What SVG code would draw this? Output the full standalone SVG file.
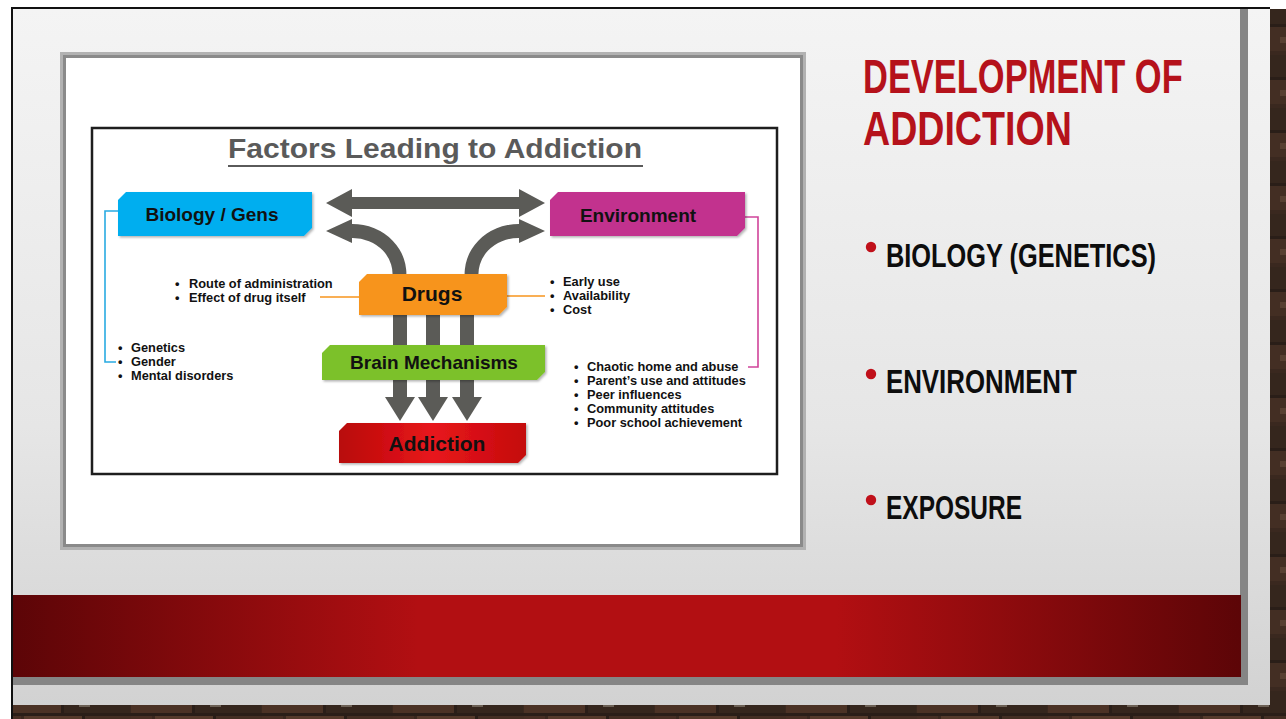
<svg xmlns="http://www.w3.org/2000/svg" width="1286" height="719" viewBox="0 0 1286 719">
  <style>
    .lbl { font-family: "Liberation Sans", Arial, sans-serif; font-weight: bold; fill: #111; }
    .box-txt { font-size: 19px; text-anchor: middle; }
    .big-txt { font-size: 21px; text-anchor: middle; }
    .bul { font-size: 12.8px; }
    .head { font-family: "Liberation Sans", Arial, sans-serif; font-weight: bold; }
    .arrow { fill: #5b5b57; }
    .bracket { fill: none; stroke-width: 1.6; }
  </style>
  <defs>
    <linearGradient id="cardGrad" x1="0" y1="0" x2="0" y2="1">
      <stop offset="0" stop-color="#f4f4f4"/>
      <stop offset="0.6" stop-color="#e6e6e6"/>
      <stop offset="1" stop-color="#d2d2d2"/>
    </linearGradient>
    <linearGradient id="bandGrad" x1="0" y1="0" x2="1" y2="0">
      <stop offset="0" stop-color="#5c0507"/>
      <stop offset="0.33" stop-color="#b20f12"/>
      <stop offset="0.67" stop-color="#b20f12"/>
      <stop offset="1" stop-color="#5c0507"/>
    </linearGradient>
    <linearGradient id="addGrad" x1="0" y1="0" x2="1" y2="0">
      <stop offset="0" stop-color="#b80808"/>
      <stop offset="0.5" stop-color="#e8161c"/>
      <stop offset="1" stop-color="#c40a0c"/>
    </linearGradient>
    <!-- weathered brick wall behind the slide -->
    <pattern id="brick" width="131" height="53" patternUnits="userSpaceOnUse">
      <rect width="131" height="53" fill="#3a281f"/>
      <rect x="0" y="1" width="61" height="23" fill="#4b3225"/>
      <rect x="64" y="2" width="66" height="22" fill="#35261d"/>
      <rect x="24" y="27" width="58" height="24" fill="#553a2b"/>
      <rect x="85" y="27" width="46" height="24" fill="#432e23"/>
      <rect x="0" y="27" width="21" height="24" fill="#472f24"/>
      <rect x="10" y="7" width="14" height="8" fill="#5e4535"/>
      <rect x="79" y="12" width="11" height="6" fill="#6c6055"/>
      <rect x="40" y="33" width="9" height="9" fill="#6f6358"/>
      <rect x="101" y="37" width="13" height="6" fill="#584032"/>
      <rect x="61" y="0" width="3" height="25" fill="#2a1e18"/>
      <rect x="82" y="26" width="3" height="27" fill="#2a1e18"/>
      <rect x="0" y="24" width="131" height="3" fill="#2a1e18"/>
    </pattern>
    <filter id="soft" x="-5%" y="-10%" width="115%" height="130%">
      <feDropShadow dx="1.5" dy="1.5" stdDeviation="1.2" flood-color="#000" flood-opacity="0.3"/>
    </filter>
  </defs>

  <!-- page and slide surface -->
  <rect width="1286" height="719" fill="#ffffff"/>
  <rect x="13" y="9" width="1273" height="710" fill="url(#brick)"/>
  <rect x="13" y="9" width="1257" height="696" fill="url(#cardGrad)"/>
  <rect x="11" y="7" width="1259" height="2" fill="#111"/>
  <rect x="11" y="7" width="2" height="712" fill="#111"/>

  <!-- inner card with shadow -->
  <rect x="1240" y="9" width="8" height="676" fill="#858585"/>
  <rect x="13" y="677" width="1235" height="8" fill="#858585"/>
  <rect x="13" y="595" width="1228" height="82" fill="url(#bandGrad)"/>

  <!-- picture frame -->
  <rect x="60" y="52" width="746" height="498" fill="#b2b2b2"/>
  <rect x="63" y="55" width="740" height="492" fill="#8a8a8a"/>
  <rect x="66" y="58" width="734" height="486" fill="#ffffff"/>

  <!-- diagram panel -->
  <rect x="92" y="128" width="685" height="346" fill="#ffffff" stroke="#1e1e1e" stroke-width="2.5"/>
  <g id="diagram-title">
    <text class="head" x="228" y="158" font-size="28" fill="#5a5a5a" textLength="414" lengthAdjust="spacingAndGlyphs">Factors Leading to Addiction</text>
    <rect x="228" y="165" width="415" height="2" fill="#5a5a5a"/>
  </g>

  <!-- connectors -->
  <g id="connectors">
    <path class="arrow" d="M326,203 L352,189 L352,197 L519,197 L519,189 L545,203 L519,217 L519,209 L352,209 L352,217 Z"/>
    <path class="arrow" d="M352,224 A54,50 0 0 1 406,280 L392,280 A40,36 0 0 0 352,238 L352,243 L326,231 L352,219 Z"/>
    <path class="arrow" d="M519,224 A54,50 0 0 0 465,280 L479,280 A40,36 0 0 1 519,238 L519,243 L545,231 L519,219 Z"/>
    <path class="arrow" d="M393,310 L407,310 L407,397 L415,397 L400,421 L385,397 L393,397 Z"/>
    <path class="arrow" d="M426,310 L440,310 L440,397 L448,397 L433,421 L418,397 L426,397 Z"/>
    <path class="arrow" d="M460,310 L474,310 L474,397 L482,397 L467,421 L452,397 L460,397 Z"/>
    <polyline class="bracket" stroke="#29abe2" points="118,211 105,211 105,362 116,362"/>
    <polyline class="bracket" stroke="#d0449a" points="745,217 758,217 758,367 748,367"/>
    <line x1="320" y1="297" x2="359" y2="297" stroke="#f7941d" stroke-width="1.6"/>
    <line x1="506" y1="296" x2="545" y2="296" stroke="#f7941d" stroke-width="1.6"/>
  </g>

  <!-- nodes -->
  <g id="node-biology">
    <path d="M126,192 L312,192 L312,228 L304,236 L118,236 L118,200 Z" fill="#00aeef" filter="url(#soft)"/>
    <text class="lbl box-txt" x="212" y="221">Biology / Gens</text>
  </g>
  <g id="node-environment">
    <path d="M558,192 L745,192 L745,228 L737,236 L550,236 L550,200 Z" fill="#c2338e" filter="url(#soft)"/>
    <text class="lbl box-txt" x="638" y="222">Environment</text>
  </g>
  <g id="node-drugs">
    <path d="M367,274 L507,274 L507,307 L499,315 L359,315 L359,282 Z" fill="#f7941d" filter="url(#soft)"/>
    <text class="lbl big-txt" x="432" y="301">Drugs</text>
  </g>
  <g id="node-brain">
    <path d="M330,345 L545,345 L545,372 L537,380 L322,380 L322,353 Z" fill="#7cc12a" filter="url(#soft)"/>
    <text class="lbl box-txt" x="434" y="369" font-size="18.5">Brain Mechanisms</text>
  </g>
  <g id="node-addiction">
    <path d="M347,423 L526,423 L526,455 L518,463 L339,463 L339,431 Z" fill="url(#addGrad)" filter="url(#soft)"/>
    <text class="lbl big-txt" x="437" y="451">Addiction</text>
  </g>

  <!-- factor lists -->
  <g id="list-drug-factors">
    <text class="lbl bul" x="175" y="288">•</text>
    <text class="lbl bul" x="189" y="288">Route of administration</text>
    <text class="lbl bul" x="175" y="302">•</text>
    <text class="lbl bul" x="189" y="302">Effect of drug itself</text>
  </g>
  <g id="list-access-factors">
    <text class="lbl bul" x="550" y="286">•</text>
    <text class="lbl bul" x="563" y="286">Early use</text>
    <text class="lbl bul" x="550" y="300">•</text>
    <text class="lbl bul" x="563" y="300">Availability</text>
    <text class="lbl bul" x="550" y="314">•</text>
    <text class="lbl bul" x="563" y="314">Cost</text>
  </g>
  <g id="list-biology-factors">
    <text class="lbl bul" x="118" y="352">•</text>
    <text class="lbl bul" x="131" y="352">Genetics</text>
    <text class="lbl bul" x="118" y="366">•</text>
    <text class="lbl bul" x="131" y="366">Gender</text>
    <text class="lbl bul" x="118" y="380">•</text>
    <text class="lbl bul" x="131" y="380">Mental disorders</text>
  </g>
  <g id="list-environment-factors">
    <text class="lbl bul" x="574" y="371">•</text>
    <text class="lbl bul" x="587" y="371">Chaotic home and abuse</text>
    <text class="lbl bul" x="574" y="385">•</text>
    <text class="lbl bul" x="587" y="385">Parent’s use and attitudes</text>
    <text class="lbl bul" x="574" y="399">•</text>
    <text class="lbl bul" x="587" y="399">Peer influences</text>
    <text class="lbl bul" x="574" y="413">•</text>
    <text class="lbl bul" x="587" y="413">Community attitudes</text>
    <text class="lbl bul" x="574" y="427">•</text>
    <text class="lbl bul" x="587" y="427">Poor school achievement</text>
  </g>

  <!-- slide heading and points (condensed by horizontal scaling) -->
  <g id="slide-title" fill="#b5121b">
    <text class="head" transform="translate(863,93) scale(0.72,1)" x="0" y="0" font-size="49" textLength="444" lengthAdjust="spacingAndGlyphs">DEVELOPMENT OF</text>
    <text class="head" transform="translate(863,145) scale(0.72,1)" x="0" y="0" font-size="49" textLength="290" lengthAdjust="spacingAndGlyphs">ADDICTION</text>
  </g>
  <g id="slide-points" fill="#0d0d0d">
    <circle cx="871" cy="247" r="5.2" fill="#c0101a"/>
    <text class="head" transform="translate(886,267) scale(0.72,1)" x="0" y="0" font-size="33.5" textLength="375" lengthAdjust="spacingAndGlyphs">BIOLOGY (GENETICS)</text>
    <circle cx="871" cy="374" r="5.2" fill="#c0101a"/>
    <text class="head" transform="translate(886,393) scale(0.72,1)" x="0" y="0" font-size="33.5" textLength="265" lengthAdjust="spacingAndGlyphs">ENVIRONMENT</text>
    <circle cx="871" cy="500" r="5.2" fill="#c0101a"/>
    <text class="head" transform="translate(886,519) scale(0.72,1)" x="0" y="0" font-size="33.5" textLength="189" lengthAdjust="spacingAndGlyphs">EXPOSURE</text>
  </g>
</svg>
